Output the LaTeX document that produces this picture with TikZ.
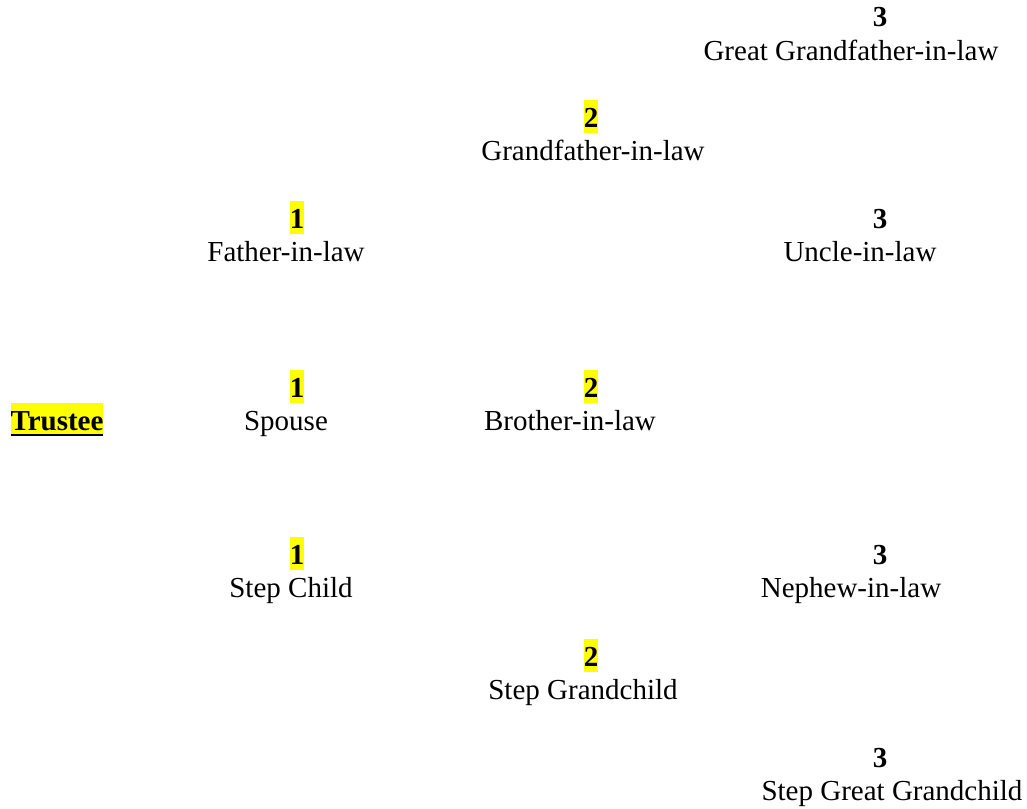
\documentclass[tikz,border=0pt]{standalone}
\usepackage{fontspec}
\setmainfont{Liberation Serif}
\definecolor{hlyellow}{RGB}{255,255,0}
\newcommand\hlbox[1]{{\setlength\fboxsep{0pt}\colorbox{hlyellow}{\rule[-6pt]{0pt}{33pt}#1}}}
\newcommand\ulbox[1]{\setbox0\hbox{#1}\rlap{\rule[-6pt]{\wd0}{2pt}}\box0}
\begin{document}
\begin{tikzpicture}[x=1pt,y=-1pt,
  every node/.style={inner sep=0pt,outer sep=0pt,anchor=base,font=\fontsize{29}{33}\selectfont},
  deg/.style={font=\fontsize{29}{33}\selectfont\bfseries},
  person/.style={}]
\useasboundingbox (0,0) rectangle (1027,808);
% degree numbers
\node[deg] (ggf-d) at (880,27) {3};
\node[deg] (gf-d) at (591,127) {\hlbox{2}};
\node[deg] (fil-d) at (297,228) {\hlbox{1}};
\node[deg] (uil-d) at (880,228) {3};
\node[deg] (sp-d) at (297,397) {\hlbox{1}};
\node[deg] (bil-d) at (591,397) {\hlbox{2}};
\node[deg] (sc-d) at (297,564) {\hlbox{1}};
\node[deg] (nil-d) at (880,564) {3};
\node[deg] (sgc-d) at (591,666) {\hlbox{2}};
\node[deg] (sggc-d) at (880,767) {3};
% names
\node[person] (ggf) at (851,60) {Great Grandfather-in-law};
\node[person] (gf) at (593,160) {Grandfather-in-law};
\node[person] (fil) at (286,261) {Father-in-law};
\node[person] (uil) at (860,261) {Uncle-in-law};
\node[deg] (trustee) at (57,430) {\hlbox{\ulbox{Trustee}}};
\node[person] (sp) at (286,430) {Spouse};
\node[person] (bil) at (570,430) {Brother-in-law};
\node[person] (sc) at (291,597) {Step Child};
\node[person] (nil) at (851,597) {Nephew-in-law};
\node[person] (sgc) at (583,699) {Step Grandchild};
\node[person] (sggc) at (892,800) {Step Great Grandchild};
\end{tikzpicture}
\end{document}
